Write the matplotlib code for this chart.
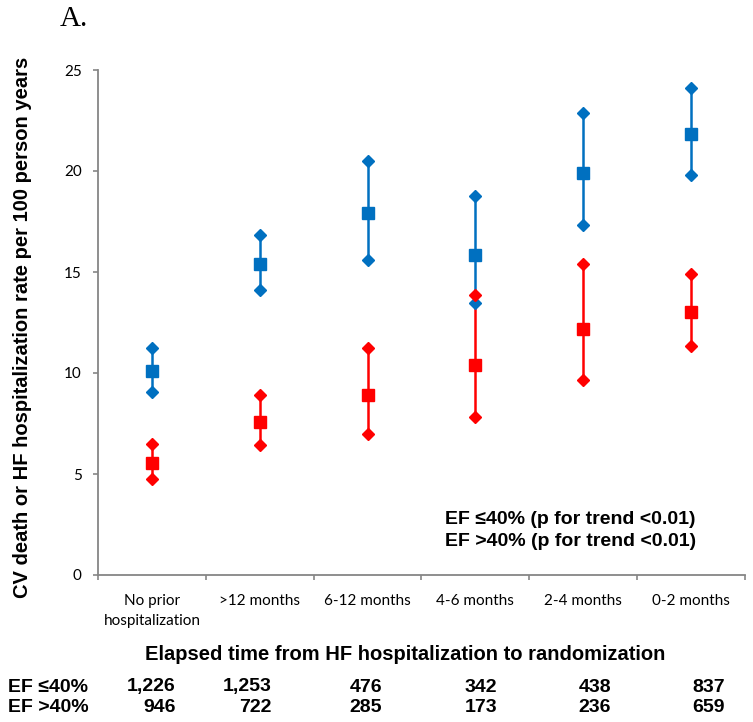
import matplotlib
matplotlib.use("Agg")
import matplotlib.pyplot as plt
import numpy as np

categories = ["No prior\nhospitalization", ">12 months", "6-12 months", "4-6 months", "2-4 months", "0-2 months"]
ef_low_rate = [10.1, 15.4, 17.9, 15.85, 19.9, 21.85]
ef_low_upper = [11.25, 16.85, 20.5, 18.75, 22.85, 24.1]
ef_low_lower = [9.05, 14.1, 15.6, 13.45, 17.35, 19.8]
ef_high_rate = [5.55, 7.55, 8.9, 10.4, 12.2, 13.0]
ef_high_upper = [6.5, 8.9, 11.25, 13.85, 15.4, 14.9]
ef_high_lower = [4.75, 6.45, 7.0, 7.8, 9.65, 11.35]
n_low = ["1,226", "1,253", "476", "342", "438", "837"]
n_high = ["946", "722", "285", "173", "236", "659"]
yticks = [0, 5, 10, 15, 20, 25]

BLUE = "#0070C0"
RED = "#FF0000"
GRAY = "#868686"
TICKFONT = ["Lato", "DejaVu Sans"]
BOLD = ["Liberation Sans", "DejaVu Sans"]

fig = plt.figure(figsize=(7.53, 7.22), dpi=100)
ax = fig.add_axes([98 / 753, 1 - 575 / 722, 647 / 753, 505 / 722])

x = np.arange(1, len(categories) + 1)
for rate, up, lo, col in [(ef_low_rate, ef_low_upper, ef_low_lower, BLUE),
                          (ef_high_rate, ef_high_upper, ef_high_lower, RED)]:
    ax.vlines(x, lo, up, color=col, lw=1.8, zorder=2)
    ax.plot(x, up, ls="none", marker="D", ms=6.5, color=col, mec=col, zorder=3)
    ax.plot(x, lo, ls="none", marker="D", ms=6.5, color=col, mec=col, zorder=3)
    ax.plot(x, rate, ls="none", marker="s", ms=8, color=col, mec=col, zorder=4)

ax.set_xlim(0.5, len(categories) + 0.5)
ax.set_ylim(0, 25)
ax.set_yticks(yticks)
ax.set_yticklabels([str(t) for t in yticks], fontfamily=TICKFONT, fontsize=11)
ax.set_xticks(np.arange(0.5, len(categories) + 1, 1.0))
ax.set_xticklabels([])
ax.set_xticks(x, minor=True)
ax.set_xticklabels(categories, minor=True, fontfamily=TICKFONT, fontsize=11, linespacing=1.55)
ax.tick_params(axis="x", which="major", length=3.8, width=1.2, color=GRAY, direction="out")
ax.tick_params(axis="x", which="minor", length=0, pad=14)
ax.tick_params(axis="y", which="major", length=3.8, width=1.2, color=GRAY, direction="out", pad=8)
for s in ["top", "right"]:
    ax.spines[s].set_visible(False)
for s in ["left", "bottom"]:
    ax.spines[s].set_color(GRAY)
    ax.spines[s].set_linewidth(1.3)

ax.set_ylabel("CV death or HF hospitalization rate per 100 person years",
              fontfamily=BOLD, fontweight="bold", fontsize=14.5)
ax.yaxis.set_label_coords((32 - 98) / 647, (575 - 327) / 505)

fig.text(445 / 753, 1 - 519 / 722, "EF \u226440% (p for trend <0.01)", fontfamily=BOLD,
         fontweight="bold", fontsize=14, ha="left", va="center")
fig.text(445 / 753, 1 - 542 / 722, "EF >40% (p for trend <0.01)", fontfamily=BOLD,
         fontweight="bold", fontsize=14, ha="left", va="center")

fig.text(405 / 753, 1 - 654 / 722, "Elapsed time from HF hospitalization to randomization",
         fontfamily=BOLD, fontweight="bold", fontsize=14.5, ha="center", va="center")

fig.text(60 / 753, 1 - 19 / 722, "A.", fontfamily=["Liberation Serif", "DejaVu Serif"],
         fontsize=21, ha="left", va="center")

col_right = [176, 272, 382, 497, 611, 725]
fig.text(8 / 753, 1 - 687 / 722, "EF \u226440%", fontfamily=BOLD, fontweight="bold",
         fontsize=14, ha="left", va="center")
fig.text(8 / 753, 1 - 708 / 722, "EF >40%", fontfamily=BOLD, fontweight="bold",
         fontsize=14, ha="left", va="center")
for xr, a, b in zip(col_right, n_low, n_high):
    fig.text(xr / 753, 1 - 687 / 722, a, fontfamily=BOLD, fontweight="bold",
             fontsize=14, ha="right", va="center")
    fig.text(xr / 753, 1 - 708 / 722, b, fontfamily=BOLD, fontweight="bold",
             fontsize=14, ha="right", va="center")

fig.savefig("out.png", dpi=100)
